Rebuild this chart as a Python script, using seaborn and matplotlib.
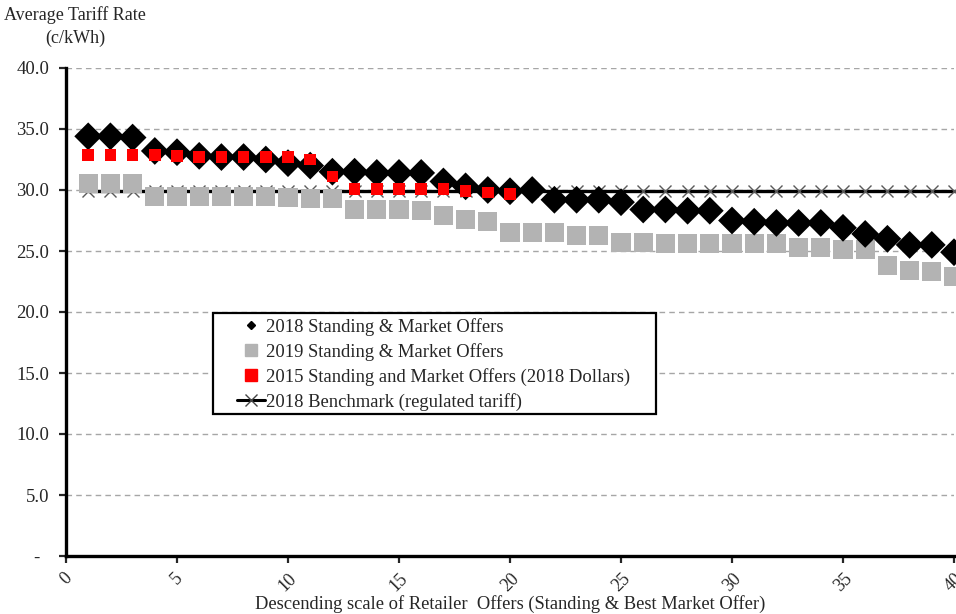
import matplotlib
matplotlib.use('Agg')
import matplotlib.pyplot as plt
import seaborn as sns
import numpy as np
import pandas as pd
from matplotlib.lines import Line2D
from matplotlib.patches import Rectangle

# offer rank (descending scale of retailer offers)
offer_rank = list(range(1, 41))

offers_2018 = [34.4, 34.4, 34.3, 33.2, 33.1, 32.8, 32.7, 32.7, 32.5, 32.2,
               32.0, 31.5, 31.5, 31.4, 31.4, 31.4, 30.7, 30.3, 30.0, 29.9,
               30.0, 29.2, 29.2, 29.2, 29.0, 28.4, 28.4, 28.3, 28.3, 27.5,
               27.4, 27.3, 27.3, 27.3, 26.9, 26.4, 26.0, 25.5, 25.5, 24.9]

offers_2019 = [30.5, 30.5, 30.5, 29.5, 29.5, 29.5, 29.5, 29.5, 29.5, 29.4,
               29.3, 29.3, 28.4, 28.4, 28.4, 28.3, 27.9, 27.6, 27.4, 26.5,
               26.5, 26.5, 26.3, 26.3, 25.7, 25.7, 25.6, 25.6, 25.6, 25.6,
               25.6, 25.6, 25.3, 25.3, 25.1, 25.1, 23.8, 23.4, 23.3, 22.9]

offers_2015 = [32.9, 32.9, 32.9, 32.9, 32.8, 32.7, 32.7, 32.7, 32.7, 32.7,
               32.5, 31.1, 30.1, 30.1, 30.1, 30.1, 30.1, 29.9, 29.8, 29.7]

benchmark_2018 = [29.9] * 40

labels = ['2018 Standing & Market Offers',
          '2019 Standing & Market Offers',
          '2015 Standing and Market Offers (2018 Dollars)',
          '2018 Benchmark (regulated tariff)']

sns.set_style('ticks')
plt.rcParams['font.family'] = ['Liberation Serif', 'DejaVu Serif']

fig = plt.figure(figsize=(9.56, 6.14), dpi=100)
ax = fig.add_axes([66 / 956, 58 / 614, 888 / 956, 488 / 614])

# benchmark line sits at the bottom
sns.lineplot(x=offer_rank, y=benchmark_2018, ax=ax, color='black', linewidth=2.4,
             marker='x', markersize=9, markeredgecolor='#5a5a5a', markeredgewidth=1.0,
             zorder=2, clip_on=False)
sns.scatterplot(x=offer_rank, y=offers_2019, ax=ax, marker='s', s=190, color='#b3b3b3',
                edgecolor='none', linewidth=0, zorder=3, clip_on=False)
sns.scatterplot(x=offer_rank, y=offers_2018, ax=ax, marker='D', s=200, color='black',
                edgecolor='none', linewidth=0, zorder=4, clip_on=False)
sns.scatterplot(x=offer_rank[:len(offers_2015)], y=offers_2015, ax=ax, marker='s', s=72,
                color='#ff0000', edgecolor='none', linewidth=0, zorder=5, clip_on=False)

ax.set_xlim(0, 40)
ax.set_ylim(0, 40)
ax.set_xticks(range(0, 41, 5))
ax.set_yticks(range(0, 41, 5))
ax.set_yticklabels(['-  ' if v == 0 else f'{v:.1f}' for v in range(0, 41, 5)])
ax.tick_params(axis='x', labelrotation=45, labelsize=13, direction='out', length=5, width=1.6,
               pad=5)
ax.tick_params(axis='y', labelsize=13.5, direction='out', length=5, width=1.6, pad=7)
for lab in ax.get_xticklabels():
    lab.set_ha('center')

ax.yaxis.grid(True, color='#a6a6a6', linestyle=(0, (4, 3)), linewidth=1.0)
ax.set_axisbelow(True)
for side in ['top', 'right']:
    ax.spines[side].set_visible(False)
for side in ['left', 'bottom']:
    ax.spines[side].set_linewidth(2.4)
    ax.spines[side].set_color('black')

ax.set_xlabel('Descending scale of Retailer  Offers (Standing & Best Market Offer)',
              fontsize=13.3, labelpad=0)
ax.set_ylabel('')
fig.text(75 / 956, 1 - 6 / 614, 'Average Tariff Rate\n(c/kWh)', ha='center', va='top',
         fontsize=13, linespacing=1.45)

# legend box drawn separately so the inner side padding matches
ax.add_patch(Rectangle((147 / 888, 142 / 488), 443 / 888, 101 / 488, transform=ax.transAxes,
                       facecolor='white', edgecolor='black', linewidth=1.6, zorder=8))
handles = [
    Line2D([], [], linestyle='none', marker='D', markersize=4.2, color='black'),
    Line2D([], [], linestyle='none', marker='s', markersize=8.2, color='#b3b3b3'),
    Line2D([], [], linestyle='none', marker='s', markersize=8.2, color='#ff0000'),
    Line2D([], [], color='black', linewidth=2.2, marker='x', markersize=9,
           markeredgecolor='#444444', markeredgewidth=1.0),
]
leg = ax.legend(handles, labels, loc='upper left', bbox_to_anchor=(167 / 888, 242 / 488),
                frameon=False, fontsize=13.4, handlelength=1.5, handletextpad=0.1,
                labelspacing=0.38, borderpad=0.2, borderaxespad=0)
leg.set_zorder(9)

fig.savefig('out.png', dpi=100)
